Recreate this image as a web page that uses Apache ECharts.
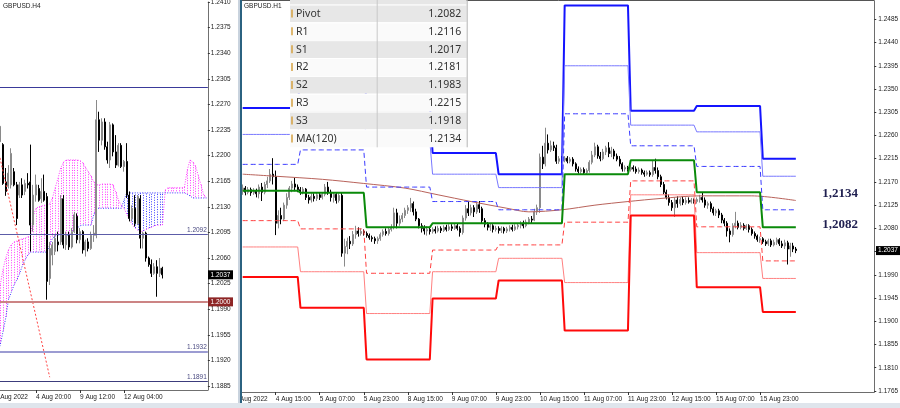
<!DOCTYPE html>
<html><head><meta charset="utf-8">
<script src="https://cdn.jsdelivr.net/npm/echarts@6/dist/echarts.min.js"></script>
<style>
html,body{margin:0;padding:0;background:#fff;}
#wrap{position:relative;width:900px;height:408px;overflow:hidden;background:#fff;}
#left{position:absolute;left:0;top:0;width:238px;height:403px;}
#right{position:absolute;left:242px;top:0;width:658px;height:403px;}
#sep1{position:absolute;left:238px;top:0;width:2px;height:408px;background:#c9d3de;}
#sep2{position:absolute;left:240px;top:0;width:2px;height:408px;background:#2b6280;}
#band{position:absolute;left:0;top:403px;width:900px;height:5px;background:#dfe5ec;}
</style></head>
<body><div id="wrap"><div id="left"></div><div id="sep1"></div><div id="sep2"></div><div id="right"></div><div id="band"></div></div>
<script>
// ---------------- LEFT PANEL (GBPUSD H4) ----------------
const H4_DAYS = ['2 Aug','3 Aug','4 Aug','5 Aug','8 Aug','9 Aug','10 Aug','11 Aug','12 Aug','15 Aug','16 Aug','17 Aug','18 Aug','19 Aug'];
const H4_FIRST_BAR = '2 Aug 16:00';
const H4_OHLC = [
[1.2219,1.2240,1.2212,1.2244],[1.2215,1.2162,1.2160,1.2217],[1.2164,1.2151,1.2145,1.2183],[1.2158,1.2176,1.2155,1.2187],
[1.2160,1.2203,1.2155,1.2210],[1.2178,1.2160,1.2158,1.2183],[1.2160,1.2114,1.2105,1.2164],[1.2146,1.2160,1.2142,1.2164],
[1.2160,1.2146,1.2142,1.2169],[1.2151,1.2162,1.2146,1.2167],[1.2162,1.2160,1.2155,1.2176],[1.2164,1.2105,1.2069,1.2215],
[1.2105,1.2146,1.2096,1.2160],[1.2146,1.2160,1.2137,1.2174],[1.2155,1.2139,1.2137,1.2160],[1.2141,1.2151,1.2135,1.2169],
[1.2151,1.2139,1.2137,1.2174],[1.2144,1.2028,1.2003,1.2149],[1.2032,1.2073,1.2023,1.2082],[1.2064,1.2078,1.2050,1.2082],
[1.2069,1.2087,1.2064,1.2091],[1.2082,1.2078,1.2069,1.2096],[1.2082,1.2141,1.2078,1.2146],[1.2141,1.2078,1.2073,1.2146],
[1.2078,1.2091,1.2071,1.2096],[1.2091,1.2075,1.2071,1.2096],[1.2075,1.2096,1.2073,1.2101],[1.2096,1.2119,1.2094,1.2123],
[1.2117,1.2085,1.2080,1.2121],[1.2085,1.2096,1.2080,1.2101],[1.2096,1.2071,1.2066,1.2098],[1.2071,1.2082,1.2062,1.2085],
[1.2082,1.2073,1.2069,1.2087],[1.2073,1.2091,1.2071,1.2096],[1.2091,1.2094,1.2082,1.2105],[1.2091,1.2249,1.2087,1.2276],
[1.2249,1.2221,1.2205,1.2260],[1.2221,1.2246,1.2214,1.2251],[1.2246,1.2212,1.2208,1.2251],[1.2212,1.2194,1.2189,1.2219],
[1.2194,1.2242,1.2183,1.2246],[1.2242,1.2205,1.2199,1.2244],[1.2205,1.2187,1.2183,1.2228],[1.2187,1.2214,1.2185,1.2217],
[1.2214,1.2185,1.2183,1.2217],[1.2185,1.2192,1.2178,1.2194],[1.2192,1.2146,1.2142,1.2217],[1.2146,1.2114,1.2110,1.2151],
[1.2114,1.2128,1.2110,1.2132],[1.2128,1.2107,1.2103,1.2146],[1.2107,1.2144,1.2105,1.2146],[1.2141,1.2087,1.2073,1.2146],
[1.2087,1.2094,1.2073,1.2096],[1.2094,1.2060,1.2055,1.2096],[1.2060,1.2051,1.2048,1.2062],[1.2051,1.2039,1.2034,1.2058],
[1.2039,1.2048,1.2037,1.2053],[1.2048,1.2039,1.2007,1.2057],[1.2039,1.2046,1.2034,1.2060],[1.2046,1.2037,1.2032,1.2048]
];
// Ichimoku cloud spans, one value per H4 category (from 2 Aug 04:00)
const H4_SPAN_A = [1.2003,1.2009,1.2016,1.2023,1.2044,1.2060,1.2071,1.2078,1.2082,1.2083,
 1.2085,1.2086,1.2087,1.2089,1.2090,1.2117,1.2128,1.2130,1.2131,1.2132,
 1.2132,1.2134,1.2142,1.2156,1.2169,1.2183,1.2191,1.2194,1.2194,1.2194,
 1.2194,1.2194,1.2193,1.2190,1.2184,1.2178,1.2172,1.2164,1.2160,1.2160,
 1.2161,1.2161,1.2161,1.2161,1.2160,1.2150,1.2139,1.2132,1.2128,1.2120,
 1.2112,1.2106,1.2101,1.2098,1.2096,1.2097,1.2099,1.2101,1.2102,1.2104,
 1.2105,1.2105,1.2105,1.2153,1.2156,1.2156,1.2156,1.2156,1.2156,1.2156,
 1.2157,1.2180,1.2194,1.2191,1.2186,1.2173,1.2160,1.2146,1.2142];
const H4_SPAN_B = [1.1914,1.1923,1.1931,1.1941,1.1959,1.1978,1.2003,1.2013,1.2023,1.2030,
 1.2038,1.2049,1.2057,1.2064,1.2068,1.2068,1.2068,1.2068,1.2068,1.2068,
 1.2068,1.2078,1.2087,1.2090,1.2091,1.2091,1.2091,1.2091,1.2091,1.2094,
 1.2101,1.2101,1.2104,1.2105,1.2105,1.2105,1.2105,1.2119,1.2128,1.2128,
 1.2128,1.2128,1.2128,1.2128,1.2128,1.2128,1.2128,1.2128,1.2139,1.2149,
 1.2149,1.2149,1.2149,1.2149,1.2149,1.2149,1.2149,1.2149,1.2149,1.2149,
 1.2149,1.2149,1.2149,1.2149,1.2149,1.2149,1.2149,1.2149,1.2149,1.2149,
 1.2149,1.2147,1.2145,1.2142,1.2142,1.2142,1.2142,1.2142,1.2142];
const H4_TREND_TIMES = ['2 Aug 04:00','5 Aug 16:00'];
const H4_TREND_VALUES = [1.2245, 1.1897];
const H4_LEVELS = [1.2294, 1.2092, 1.2000, 1.1932, 1.1891];
const H4_LEVEL_LABELS = ['', '1.2092', '', '1.1932', '1.1891'];
const H4_Y_TICKS = [1.1885,1.1920,1.1955,1.1990,1.2025,1.2060,1.2095,1.2130,1.2165,1.2200,1.2235,1.2270,1.2305,1.2340,1.2375,1.2410];
const H4_TICK_TIMES = ['2 Aug 08:00','4 Aug 20:00','9 Aug 12:00','12 Aug 04:00'];
const H4_TICK_LABELS = ['2 Aug 2022','4 Aug 20:00','9 Aug 12:00','12 Aug 04:00'];

// ---------------- RIGHT PANEL (GBPUSD H1) ----------------
const H1_DAYS = ['4 Aug','5 Aug','8 Aug','9 Aug','10 Aug','11 Aug','12 Aug','15 Aug','16 Aug','17 Aug'];
const H1_FIRST_BAR = '4 Aug 03:00';
const H1_AUG04 = [
[1.2152,1.2158,1.2145,1.2165],[1.2158,1.2150,1.2144,1.2162],[1.2150,1.2155,1.2146,1.2160],[1.2155,1.2149,1.2143,1.2159],
[1.2149,1.2153,1.2145,1.2158],[1.2153,1.2147,1.2140,1.2157],[1.2147,1.2160,1.2138,1.2165],[1.2160,1.2150,1.2133,1.2168],
[1.2150,1.2165,1.2146,1.2170],[1.2165,1.2172,1.2158,1.2180],[1.2172,1.2185,1.2168,1.2195],[1.2185,1.2180,1.2165,1.2216],
[1.2180,1.2090,1.2067,1.2192],[1.2090,1.2105,1.2080,1.2115],[1.2105,1.2098,1.2088,1.2120],[1.2098,1.2125,1.2094,1.2130],
[1.2125,1.2140,1.2118,1.2148],[1.2140,1.2158,1.2135,1.2162],[1.2158,1.2166,1.2150,1.2172],[1.2166,1.2160,1.2152,1.2178],
[1.2160,1.2155,1.2150,1.2165]];
const H1_AUG05 = [
[1.2155,1.2150,1.2145,1.2160],[1.2150,1.2156,1.2146,1.2160],[1.2156,1.2140,1.2135,1.2158],[1.2140,1.2135,1.2128,1.2145],
[1.2135,1.2142,1.2130,1.2148],[1.2142,1.2138,1.2132,1.2148],[1.2138,1.2145,1.2133,1.2150],[1.2145,1.2140,1.2135,1.2150],
[1.2140,1.2146,1.2136,1.2150],[1.2146,1.2160,1.2142,1.2166],[1.2160,1.2150,1.2145,1.2170],[1.2150,1.2140,1.2132,1.2155],
[1.2140,1.2146,1.2130,1.2150],[1.2146,1.2134,1.2128,1.2150],[1.2134,1.2144,1.2130,1.2148],[1.2144,1.2032,1.2025,1.2150],
[1.2032,1.2045,1.2006,1.2060],[1.2045,1.2055,1.2030,1.2062],[1.2055,1.2050,1.2040,1.2065],[1.2050,1.2068,1.2046,1.2075],
[1.2068,1.2075,1.2060,1.2085],[1.2075,1.2070,1.2064,1.2082],[1.2070,1.2074,1.2066,1.2080],[1.2074,1.2072,1.2066,1.2078]];
const H1_AUG08 = [
[1.2070,1.2066,1.2062,1.2074],[1.2066,1.2062,1.2058,1.2070],[1.2062,1.2060,1.2054,1.2066],[1.2060,1.2056,1.2050,1.2064],
[1.2056,1.2060,1.2050,1.2064],[1.2060,1.2068,1.2056,1.2072],[1.2068,1.2074,1.2064,1.2078],[1.2074,1.2070,1.2066,1.2080],
[1.2070,1.2078,1.2066,1.2082],[1.2078,1.2082,1.2074,1.2088],[1.2082,1.2110,1.2078,1.2120],[1.2110,1.2090,1.2080,1.2118],
[1.2090,1.2098,1.2085,1.2105],[1.2098,1.2105,1.2092,1.2110],[1.2105,1.2115,1.2100,1.2120],[1.2115,1.2120,1.2108,1.2125],
[1.2120,1.2128,1.2112,1.2139],[1.2128,1.2112,1.2105,1.2132],[1.2112,1.2098,1.2094,1.2118],[1.2098,1.2085,1.2080,1.2100],
[1.2085,1.2080,1.2072,1.2090],[1.2080,1.2075,1.2068,1.2086],[1.2075,1.2078,1.2066,1.2084],[1.2078,1.2074,1.2068,1.2082]];
const H1_AUG09 = [
[1.2074,1.2078,1.2070,1.2082],[1.2078,1.2075,1.2070,1.2084],[1.2075,1.2080,1.2072,1.2085],[1.2080,1.2076,1.2071,1.2084],
[1.2076,1.2082,1.2073,1.2086],[1.2082,1.2078,1.2074,1.2087],[1.2078,1.2083,1.2075,1.2088],[1.2083,1.2080,1.2075,1.2088],
[1.2080,1.2085,1.2077,1.2090],[1.2085,1.2080,1.2076,1.2090],[1.2080,1.2072,1.2064,1.2084],[1.2072,1.2100,1.2068,1.2105],
[1.2100,1.2118,1.2095,1.2125],[1.2118,1.2110,1.2104,1.2132],[1.2110,1.2120,1.2105,1.2126],[1.2120,1.2112,1.2102,1.2125],
[1.2112,1.2126,1.2108,1.2130],[1.2126,1.2118,1.2110,1.2133],[1.2118,1.2095,1.2090,1.2122],[1.2095,1.2088,1.2082,1.2100],
[1.2088,1.2082,1.2076,1.2092],[1.2082,1.2085,1.2075,1.2090],[1.2085,1.2078,1.2072,1.2088],[1.2078,1.2080,1.2074,1.2085]];
const H1_AUG10 = [
[1.2080,1.2076,1.2070,1.2084],[1.2076,1.2080,1.2071,1.2084],[1.2080,1.2075,1.2070,1.2083],[1.2075,1.2079,1.2071,1.2083],
[1.2079,1.2082,1.2074,1.2086],[1.2082,1.2078,1.2074,1.2087],[1.2078,1.2083,1.2075,1.2088],[1.2083,1.2086,1.2078,1.2090],
[1.2086,1.2090,1.2080,1.2094],[1.2090,1.2085,1.2080,1.2095],[1.2085,1.2092,1.2082,1.2097],[1.2092,1.2098,1.2088,1.2102],
[1.2098,1.2096,1.2090,1.2104],[1.2096,1.2112,1.2094,1.2118],[1.2112,1.2120,1.2106,1.2126],[1.2120,1.2218,1.2110,1.2225],
[1.2218,1.2205,1.2195,1.2240],[1.2205,1.2245,1.2200,1.2275],[1.2245,1.2232,1.2225,1.2262],[1.2232,1.2240,1.2228,1.2250],
[1.2240,1.2236,1.2230,1.2248],[1.2236,1.2210,1.2205,1.2242],[1.2210,1.2215,1.2205,1.2220],[1.2215,1.2212,1.2206,1.2220]];
const H1_AUG11 = [
[1.2212,1.2216,1.2208,1.2220],[1.2216,1.2210,1.2206,1.2220],[1.2210,1.2214,1.2206,1.2218],[1.2214,1.2205,1.2200,1.2218],
[1.2205,1.2195,1.2190,1.2208],[1.2195,1.2190,1.2186,1.2200],[1.2190,1.2194,1.2186,1.2198],[1.2194,1.2188,1.2185,1.2198],
[1.2188,1.2192,1.2185,1.2196],[1.2192,1.2208,1.2188,1.2212],[1.2208,1.2222,1.2204,1.2230],[1.2222,1.2238,1.2218,1.2246],
[1.2238,1.2220,1.2215,1.2242],[1.2220,1.2215,1.2210,1.2228],[1.2215,1.2228,1.2212,1.2234],[1.2228,1.2236,1.2222,1.2240],
[1.2236,1.2225,1.2218,1.2247],[1.2225,1.2230,1.2218,1.2238],[1.2230,1.2220,1.2214,1.2234],[1.2220,1.2214,1.2210,1.2225],
[1.2214,1.2205,1.2200,1.2220],[1.2205,1.2195,1.2190,1.2208],[1.2195,1.2198,1.2190,1.2202],[1.2198,1.2194,1.2190,1.2201]];
const H1_AUG12 = [
[1.2194,1.2198,1.2190,1.2203],[1.2198,1.2195,1.2190,1.2202],[1.2195,1.2190,1.2186,1.2200],[1.2190,1.2193,1.2186,1.2198],
[1.2193,1.2188,1.2184,1.2196],[1.2188,1.2185,1.2180,1.2192],[1.2185,1.2188,1.2182,1.2192],[1.2188,1.2184,1.2180,1.2192],
[1.2184,1.2198,1.2180,1.2212],[1.2198,1.2192,1.2186,1.2215],[1.2192,1.2180,1.2175,1.2198],[1.2180,1.2165,1.2160,1.2184],
[1.2165,1.2150,1.2146,1.2170],[1.2150,1.2140,1.2136,1.2155],[1.2140,1.2130,1.2124,1.2146],[1.2130,1.2120,1.2114,1.2135],
[1.2120,1.2135,1.2102,1.2140],[1.2135,1.2128,1.2120,1.2142],[1.2128,1.2136,1.2124,1.2140],[1.2136,1.2130,1.2125,1.2142],
[1.2130,1.2134,1.2126,1.2140],[1.2134,1.2131,1.2128,1.2140],[1.2131,1.2135,1.2128,1.2139],[1.2135,1.2132,1.2128,1.2138]];
const H1_AUG15 = [
[1.2132,1.2136,1.2128,1.2140],[1.2136,1.2140,1.2130,1.2145],[1.2140,1.2135,1.2130,1.2149],[1.2135,1.2125,1.2120,1.2140],
[1.2125,1.2128,1.2118,1.2132],[1.2128,1.2118,1.2112,1.2132],[1.2118,1.2110,1.2105,1.2122],[1.2110,1.2114,1.2104,1.2118],
[1.2114,1.2106,1.2100,1.2118],[1.2106,1.2096,1.2090,1.2110],[1.2096,1.2090,1.2084,1.2100],[1.2090,1.2075,1.2064,1.2094],
[1.2075,1.2068,1.2053,1.2080],[1.2068,1.2085,1.2064,1.2090],[1.2085,1.2090,1.2080,1.2112],[1.2090,1.2082,1.2078,1.2095],
[1.2082,1.2086,1.2078,1.2092],[1.2086,1.2080,1.2076,1.2090],[1.2080,1.2085,1.2077,1.2088],[1.2085,1.2078,1.2072,1.2088],
[1.2078,1.2070,1.2066,1.2082],[1.2070,1.2065,1.2060,1.2074],[1.2065,1.2058,1.2054,1.2068],[1.2058,1.2060,1.2052,1.2064]];
const H1_AUG16 = [
[1.2060,1.2054,1.2050,1.2063],[1.2054,1.2050,1.2046,1.2058],[1.2050,1.2056,1.2046,1.2060],[1.2056,1.2048,1.2044,1.2060],
[1.2048,1.2053,1.2045,1.2058],[1.2053,1.2058,1.2048,1.2062],[1.2058,1.2050,1.2046,1.2061],[1.2050,1.2046,1.2042,1.2056],
[1.2046,1.2052,1.2040,1.2058],[1.2052,1.2040,1.2010,1.2056],[1.2040,1.2046,1.2025,1.2052],[1.2046,1.2040,1.2034,1.2052],
[1.2040,1.2037,1.2032,1.2044]];

// Daily pivot levels: 4,5,8,9,10,11,12,15,16 Aug
const PIVOT = [1.2153,1.2149,1.2082,1.2090,1.2090,1.2185,1.2212,1.2150,1.2082];
const R1 = [1.2204,1.2232,1.2160,1.2132,1.2116,1.2302,1.2240,1.2200,1.2116];
const S1 = [1.2095,1.2079,1.1993,1.2038,1.2048,1.2092,1.2172,1.2083,1.2017];
const R2 = [1.2262,1.2302,1.2249,1.2185,1.2159,1.2395,1.2280,1.2267,1.2181];
const S2 = [1.2044,1.1996,1.1915,1.1996,1.2022,1.1975,1.2145,1.2033,1.1983];
const R3 = [1.2313,1.2385,1.2326,1.2226,1.2185,1.2512,1.2308,1.2317,1.2215];
const S3 = [1.1986,1.1926,1.1826,1.1944,1.1979,1.1882,1.2105,1.1966,1.1918];

const MA_TIMES = ['4 Aug 03:00','4 Aug 15:00','5 Aug 08:00','5 Aug 23:00','8 Aug 14:00','9 Aug 02:00','9 Aug 14:00','10 Aug 03:00','10 Aug 11:00','10 Aug 23:00','11 Aug 11:00','11 Aug 23:00','12 Aug 11:00','15 Aug 01:00','15 Aug 20:00','16 Aug 12:00'];
const MA_VALUES = [1.2185,1.2181,1.2175,1.2167,1.2158,1.2145,1.2132,1.2119,1.2112,1.2116,1.2125,1.2132,1.2138,1.2143,1.2143,1.2134];

const TABLE_LABELS = ['Pivot','R1','S1','R2','S2','R3','S3','MA(120)'];
const TABLE_VALUES = [1.2082,1.2116,1.2017,1.2181,1.1983,1.2215,1.1918,1.2134];
const ANNOT_TEXT = ['1,2134','1,2082'];

const H1_Y_TICKS = [1.1765,1.1810,1.1855,1.1900,1.1945,1.1990,1.2035,1.2080,1.2125,1.2170,1.2215,1.2260,1.2305,1.2350,1.2395,1.2440,1.2485];
const H1_TICK_TIMES = ['4 Aug 00:00','4 Aug 15:00','5 Aug 07:00','5 Aug 23:00','8 Aug 15:00','9 Aug 07:00','9 Aug 23:00','10 Aug 15:00','11 Aug 07:00','11 Aug 23:00','12 Aug 15:00','15 Aug 07:00','15 Aug 23:00'];
const H1_TICK_LABELS = ['4 Aug 2022','4 Aug 15:00','5 Aug 07:00','5 Aug 23:00','8 Aug 15:00','9 Aug 07:00','9 Aug 23:00','10 Aug 15:00','11 Aug 07:00','11 Aug 23:00','12 Aug 15:00','15 Aug 07:00','15 Aug 23:00'];

// ---------------- build ----------------
const FONT = 'Liberation Sans, Arial, sans-serif';
const pad2 = n => (n < 10 ? '0' : '') + n;

// H4 categories
const h4Cats = [];
H4_DAYS.forEach((d, di) => {
  for (let h = 0; h < 24; h += 4) {
    if (di === 0 && h < 4) continue;
    h4Cats.push(d + ' ' + pad2(h) + ':00');
  }
});
h4Cats.length = H4_SPAN_A.length;
const h4Start = h4Cats.indexOf(H4_FIRST_BAR);
const h4TickIdx = H4_TICK_TIMES.map(t => h4Cats.indexOf(t));

// H1 categories
const h1Cats = [], h1Day = [];
h1Cats.push('3 Aug 23:00'); h1Day.push(-1);
for (let h = 0; h < 3; h++) { h1Cats.push('4 Aug ' + pad2(h) + ':00'); h1Day.push(-1); }
H1_DAYS.forEach((d, di) => {
  const a = di === 0 ? 3 : 0, b = di === H1_DAYS.length - 1 ? 16 : 23;
  for (let h = a; h <= b; h++) { h1Cats.push(d + ' ' + pad2(h) + ':00'); h1Day.push(di); }
});
const H1_OHLC = [].concat(H1_AUG04, H1_AUG05, H1_AUG08, H1_AUG09, H1_AUG10, H1_AUG11, H1_AUG12, H1_AUG15, H1_AUG16);
const h1Start = h1Cats.indexOf(H1_FIRST_BAR);
const h1End = h1Start + H1_OHLC.length - 1;
const h1TickIdx = H1_TICK_TIMES.map(t => h1Cats.indexOf(t));

// ---------- LEFT chart ----------
const left = echarts.init(document.getElementById('left'), null, {renderer: 'canvas', width: 238, height: 403});
const L_TOP = 2, L_H = 388, L_MAX = 1.2410, L_MIN = 1.18795;
const PINK = '#ff3cff', BLUEC = '#3c3cff';
const LEVEL_COLORS = ['#3a3a9a', '#5c5ca8', '#cc8484', '#9c9cd2', '#3c3c7c'];
const LEVEL_WIDTHS = [1, 1, 2, 2, 1];
left.setOption({
  animation: false,
  textStyle: {fontFamily: FONT},
  grid: {left: -9.4, top: L_TOP, width: 79 * 2.75, height: L_H, containLabel: false, outerBoundsMode: 'none'},
  xAxis: {
    type: 'category', data: h4Cats, boundaryGap: true,
    axisLine: {show: true, lineStyle: {color: '#707070', width: 1}},
    axisTick: {show: true, alignWithLabel: true, length: 3, interval: i => h4TickIdx.indexOf(i) >= 0, lineStyle: {color: '#333'}},
    axisLabel: {show: true, interval: i => h4TickIdx.indexOf(i) >= 0, align: 'left', fontSize: 6.5, color: '#222', margin: 4,
      formatter: (v, i) => H4_TICK_LABELS[h4TickIdx.indexOf(i)] || ''},
    splitLine: {show: false}
  },
  yAxis: {
    type: 'value', position: 'right', min: L_MIN, max: L_MAX, scale: true,
    axisLine: {show: true, lineStyle: {color: '#707070'}},
    axisTick: {show: true, length: 2, customValues: H4_Y_TICKS, lineStyle: {color: '#333'}},
    axisLabel: {show: true, customValues: H4_Y_TICKS, formatter: v => v.toFixed(4), fontSize: 6.5, color: '#222', margin: 3},
    splitLine: {show: false}
  },
  series: [
    {
      type: 'custom', clip: true, z: 1,
      data: H4_SPAN_A.map((a, k) => [k, a, H4_SPAN_B[k]]),
      encode: {x: 0, y: [1, 2]},
      renderItem: (params, api) => {
        const k = api.value(0), a = api.value(1), b = api.value(2);
        const p1 = api.coord([k, a]), p2 = api.coord([k, b]);
        const x = Math.round(p1[0]) + 0.5;
        return {type: 'line', shape: {x1: x, y1: p1[1], x2: x, y2: p2[1]},
          style: {stroke: a >= b ? PINK : BLUEC, lineWidth: 1, lineDash: [1, 1.5]}};
      }
    },
    {type: 'line', data: H4_SPAN_A, showSymbol: false, symbol: 'none', z: 2, lineStyle: {color: PINK, width: 1, type: [1, 1.5]}},
    {type: 'line', data: H4_SPAN_B, showSymbol: false, symbol: 'none', z: 2, lineStyle: {color: BLUEC, width: 1, type: [1, 1.5]}},
    {
      type: 'candlestick', z: 3, barWidth: 1.5,
      data: H4_OHLC.map((r, j) => [j + h4Start, r[0], r[1], r[2], r[3]]),
      encode: {x: 0, y: [1, 2, 3, 4]},
      itemStyle: {color: '#9a9a9a', color0: '#000', borderColor: '#8a8a8a', borderColor0: '#000', borderWidth: 1}
    },
    {
      type: 'line', z: 2, data: [], showSymbol: false,
      markLine: {
        silent: true, symbol: ['none', 'none'], animation: false, precision: 6,
        data: H4_LEVELS.map((v, i) => ({
          yAxis: v,
          lineStyle: {color: LEVEL_COLORS[i], width: LEVEL_WIDTHS[i], type: 'solid'},
          label: {show: !!H4_LEVEL_LABELS[i], position: 'insideEndTop', formatter: H4_LEVEL_LABELS[i], fontSize: 6.5, color: '#4a4a80', distance: 1}
        }))
      }
    },
    {
      type: 'line', z: 4, showSymbol: false, symbol: 'none',
      data: H4_TREND_TIMES.map((t, i) => [h4Cats.indexOf(t), H4_TREND_VALUES[i]]),
      lineStyle: {color: '#ff4040', width: 1, type: [2, 2]}
    }
  ]
});
const lp = v => left.convertToPixel({yAxisIndex: 0}, v);
const h4Last = H4_OHLC[H4_OHLC.length - 1][1];
left.setOption({graphic: [
  {type: 'text', style: {text: 'GBPUSD.H4', x: 3, y: 3, fill: '#222', fontSize: 6.5, fontFamily: FONT}},
  {type: 'rect', shape: {x: 208, y: lp(h4Last) - 4.5, width: 25, height: 9}, style: {fill: '#000'}, z: 10},
  {type: 'text', style: {text: h4Last.toFixed(4), x: 220.5, y: lp(h4Last), align: 'center', verticalAlign: 'middle', fill: '#fff', fontSize: 6.5, fontFamily: FONT}, z: 11},
  {type: 'rect', shape: {x: 208, y: lp(H4_LEVELS[2]) - 4.5, width: 25, height: 9}, style: {fill: '#8e2626'}, z: 10},
  {type: 'text', style: {text: H4_LEVELS[2].toFixed(4), x: 220.5, y: lp(H4_LEVELS[2]), align: 'center', verticalAlign: 'middle', fill: '#fff', fontSize: 6.5, fontFamily: FONT}, z: 11}
]});

// ---------- RIGHT chart ----------
const right = echarts.init(document.getElementById('right'), null, {renderer: 'canvas', width: 658, height: 403});
const R_MAX = 1.25205, R_MIN = 1.17630;
const lvl = arr => h1Cats.map((c, i) => (i >= h1Start && i <= h1End && h1Day[i] >= 0) ? arr[h1Day[i]] : null);
const lineS = (arr, color, width, type, z) => ({type: 'line', data: lvl(arr), showSymbol: false, symbol: 'none', z: z || 3, lineStyle: {color, width, type}});
right.setOption({
  animation: false,
  textStyle: {fontFamily: FONT},
  grid: {left: -11.7, top: 1, width: 234 * 2.752, height: 391, containLabel: false, outerBoundsMode: 'none'},
  xAxis: {
    type: 'category', data: h1Cats, boundaryGap: true,
    axisLine: {show: true, lineStyle: {color: '#6d6d6d', width: 1}},
    axisTick: {show: true, alignWithLabel: true, length: 3, interval: i => h1TickIdx.indexOf(i) >= 0, lineStyle: {color: '#333'}},
    axisLabel: {show: true, interval: i => h1TickIdx.indexOf(i) >= 0, align: 'left', fontSize: 6.5, color: '#222', margin: 4,
      formatter: (v, i) => H1_TICK_LABELS[h1TickIdx.indexOf(i)] || ''},
    splitLine: {show: false}
  },
  yAxis: {
    type: 'value', position: 'right', min: R_MIN, max: R_MAX, scale: true,
    axisLine: {show: true, lineStyle: {color: '#6d6d6d'}},
    axisTick: {show: true, length: 2, customValues: H1_Y_TICKS, lineStyle: {color: '#333'}},
    axisLabel: {show: true, customValues: H1_Y_TICKS, formatter: v => v.toFixed(4), fontSize: 6.5, color: '#222', margin: 4},
    splitLine: {show: false}
  },
  series: [
    {
      type: 'candlestick', z: 2, barWidth: 1.5,
      data: H1_OHLC.map((r, j) => [j + h1Start, r[0], r[1], r[2], r[3]]),
      encode: {x: 0, y: [1, 2, 3, 4]},
      itemStyle: {color: '#9a9a9a', color0: '#000', borderColor: '#8a8a8a', borderColor0: '#000', borderWidth: 1}
    },
    {type: 'line', data: MA_TIMES.map((t, i) => [h1Cats.indexOf(t), MA_VALUES[i]]), smooth: 0.3, showSymbol: false, symbol: 'none', z: 3,
      lineStyle: {color: '#b8625a', width: 1}},
    lineS(R3, '#1414ff', 2, 'solid'),
    lineS(R2, '#7878ff', 1, 'solid'),
    lineS(R1, '#3c3cff', 1, [5, 3]),
    lineS(PIVOT, '#0a8a0a', 2, 'solid', 4),
    lineS(S1, '#ff4040', 1, [5, 3]),
    lineS(S2, '#ff8080', 1, 'solid'),
    lineS(S3, '#ff0a0a', 2, 'solid')
  ]
});
const rp = v => right.convertToPixel({yAxisIndex: 0}, v);
const h1Last = H1_OHLC[H1_OHLC.length - 1][1];
const gfx = [];
gfx.push({type: 'line', shape: {x1: 0, y1: 0.5, x2: 632.5, y2: 0.5}, style: {stroke: '#555', lineWidth: 1}, z: 20});
gfx.push({type: 'text', style: {text: 'GBPUSD.H1', x: 2, y: 3, fill: '#222', fontSize: 6.5, fontFamily: FONT}, z: 20});
// table
const TX = 48, TW = 176.7, TDIV = 134.7, TY = 4.5, RH = 17.85;
gfx.push({type: 'rect', shape: {x: TX, y: 0, width: TW, height: TY}, style: {fill: '#e6e6e6'}, z: 30});
TABLE_LABELS.forEach((lab, i) => {
  const y = TY + i * RH;
  gfx.push({type: 'rect', shape: {x: TX, y: y, width: TW, height: RH}, style: {fill: i % 2 === 0 ? '#e7e7e7' : '#fafafa'}, z: 30});
  gfx.push({type: 'line', shape: {x1: TX, y1: y + 0.5, x2: TX + TW, y2: y + 0.5}, style: {stroke: '#ffffff', lineWidth: 1}, z: 31});
  gfx.push({type: 'line', shape: {x1: TX + 2, y1: y + 5, x2: TX + 2, y2: y + 13}, style: {stroke: '#d4a040', lineWidth: 1.5}, z: 32});
  gfx.push({type: 'text', style: {text: lab, x: TX + 6, y: y + RH / 2 + 0.5, verticalAlign: 'middle', fill: '#333', fontSize: 10.5, fontFamily: 'Noto Sans, sans-serif'}, z: 33});
  gfx.push({type: 'text', style: {text: TABLE_VALUES[i].toFixed(4), x: TX + TW - 5.5, y: y + RH / 2 + 0.5, align: 'right', verticalAlign: 'middle', fill: '#333', fontSize: 10.5, fontFamily: 'Noto Sans, sans-serif'}, z: 33});
});
gfx.push({type: 'line', shape: {x1: TDIV + 0.5, y1: 0, x2: TDIV + 0.5, y2: TY + 8 * RH}, style: {stroke: '#c8c8c8', lineWidth: 1}, z: 32});
gfx.push({type: 'line', shape: {x1: TX + TW + 0.5, y1: 0, x2: TX + TW + 0.5, y2: TY + 8 * RH}, style: {stroke: '#b4b4b4', lineWidth: 1}, z: 32});
// annotations
gfx.push({type: 'text', style: {text: ANNOT_TEXT[0], x: 598, y: 194, align: 'center', verticalAlign: 'middle', fill: '#1f1f50', fontSize: 13, fontWeight: 'bold', fontFamily: 'Liberation Serif, serif'}, z: 20});
gfx.push({type: 'text', style: {text: ANNOT_TEXT[1], x: 598, y: 224.5, align: 'center', verticalAlign: 'middle', fill: '#1f1f50', fontSize: 13, fontWeight: 'bold', fontFamily: 'Liberation Serif, serif'}, z: 20});
// last price box
gfx.push({type: 'rect', shape: {x: 634, y: rp(h1Last) - 4.5, width: 24, height: 9}, style: {fill: '#000'}, z: 20});
gfx.push({type: 'text', style: {text: h1Last.toFixed(4), x: 646, y: rp(h1Last), align: 'center', verticalAlign: 'middle', fill: '#fff', fontSize: 6.5, fontFamily: FONT}, z: 21});
right.setOption({graphic: gfx});
</script>
</body></html>
